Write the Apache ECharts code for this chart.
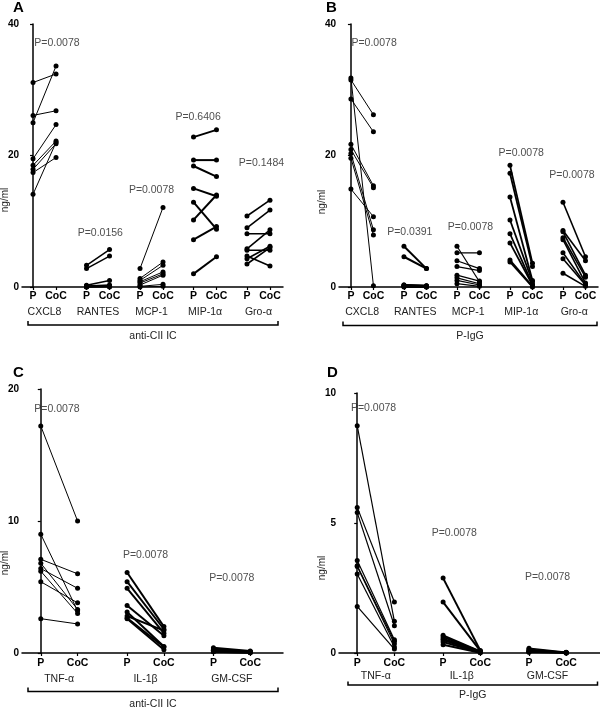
<!DOCTYPE html>
<html><head><meta charset="utf-8">
<script src="https://cdn.jsdelivr.net/npm/echarts@6/dist/echarts.min.js"></script>
<style>html,body{margin:0;padding:0;background:#fff}#c{width:600px;height:708px}</style>
</head><body><div id="c"></div>
<script>
// ---------- DATA ----------
const groupsAB = ['CXCL8', 'RANTES', 'MCP-1', 'MIP-1α', 'Gro-α'];
const groupsCD = ['TNF-α', 'IL-1β', 'GM-CSF'];
const yTicksAB = [0, 20, 40];
const yTicksC = [0, 10, 20];
const yTicksD = [0, 5, 10];

const panelA_P = [
  [31.1, 26.1, 25.0, 19.5, 18.5, 17.9, 17.4, 14.1],
  [3.3, 2.8, 0.25, 0.15, 0.1, 0.05, 0.0, 0.0],
  [2.8, 1.3, 1.0, 0.8, 0.6, 0.3, 0.1, 0.0],
  [22.8, 19.3, 18.4, 15.0, 12.9, 10.2, 7.2, 2.0],
  [10.8, 9.0, 8.1, 5.8, 5.6, 4.7, 4.3, 3.5]
];
const panelA_CoC = [
  [32.4, 26.8, 33.6, 24.7, 22.2, 21.8, 19.7, 22.0],
  [5.7, 4.7, 1.0, 0.3, 0.2, 0.1, 0.1, 0.0],
  [12.1, 3.8, 3.3, 2.3, 2.0, 1.8, 0.4, 0.1],
  [23.9, 19.3, 16.8, 13.8, 8.8, 14.0, 9.2, 4.6],
  [13.2, 11.7, 8.1, 8.7, 5.6, 3.2, 6.2, 6.0]
];
const panelA_pvals = ['P=0.0078', 'P=0.0156', 'P=0.0078', 'P=0.6406', 'P=0.1484'];

const panelB_P = [
  [31.8, 31.5, 28.6, 21.7, 20.9, 20.3, 19.6, 14.9],
  [6.2, 4.6, 0.3, 0.3, 0.2, 0.1, 0.1, 0.0],
  [6.2, 5.2, 4.0, 3.1, 1.8, 1.4, 1.0, 0.5],
  [18.5, 17.3, 13.7, 10.2, 8.1, 6.7, 4.1, 3.8],
  [12.9, 8.6, 8.4, 7.5, 7.2, 5.2, 4.3, 2.1]
];
const panelB_CoC = [
  [0.2, 26.2, 23.6, 15.4, 15.1, 8.7, 7.9, 10.7],
  [2.8, 2.8, 0.2, 0.2, 0.1, 0.1, 0.0, 0.0],
  [0.8, 5.2, 2.8, 2.5, 0.9, 0.5, 0.3, 0.1],
  [3.6, 3.1, 1.0, 0.8, 0.4, 0.3, 0.1, 0.0],
  [4.6, 4.0, 1.8, 1.5, 0.6, 0.4, 0.3, 0.1]
];
const panelB_pvals = ['P=0.0078', 'P=0.0391', 'P=0.0078', 'P=0.0078', 'P=0.0078'];

const panelC_P = [
  [17.2, 9.0, 7.1, 6.8, 6.4, 6.2, 5.4, 2.6],
  [6.1, 5.4, 4.9, 3.6, 3.1, 2.8, 2.65, 2.6],
  [0.4, 0.3, 0.25, 0.2, 0.2, 0.15, 0.1, 0.1]
];
const panelC_CoC = [
  [10.0, 3.2, 6.0, 3.3, 4.9, 3.0, 3.8, 2.2],
  [2.0, 1.8, 1.5, 1.3, 0.5, 1.7, 0.45, 0.25],
  [0.15, 0.1, 0.1, 0.08, 0.05, 0.05, 0.03, 0.02]
];
const panelC_pvals = ['P=0.0078', 'P=0.0078', 'P=0.0078'];

const panelD_P = [
  [8.74, 5.6, 5.4, 3.56, 3.36, 3.33, 3.04, 1.79],
  [2.88, 1.96, 0.68, 0.62, 0.55, 0.5, 0.42, 0.32],
  [0.18, 0.14, 0.1, 0.08, 0.06, 0.05, 0.04, 0.03]
];
const panelD_CoC = [
  [1.22, 1.96, 1.05, 0.51, 0.45, 0.36, 0.23, 0.15],
  [0.1, 0.08, 0.06, 0.05, 0.04, 0.03, 0.02, 0.01],
  [0.03, 0.02, 0.02, 0.01, 0.01, 0.01, 0.0, 0.0]
];
const panelD_pvals = ['P=0.0078', 'P=0.0078', 'P=0.0078'];

// ---------- LAYOUT / STYLE ----------
const FONT = 'Liberation Sans, Arial, sans-serif';
const panels = [
  {letter: 'A', groups: groupsAB, P: panelA_P, C: panelA_CoC, pv: panelA_pvals,
   pvY: [37.1, 8.2, 14.7, 25.8, 18.9], pvDx: [0.54, 0.1, 0, -0.3, 0.13],
   ticks: yTicksAB, grid: {left: 22, top: 24, width: 261, height: 263}, spacing: 2.326, xmin: -0.48, xmax: 10.87,
   widths: [1, 1.5, 1, 2, 1.6], pm: 4, gm: 20, caption: 'anti-CII IC', bracket: [28, 278, 325, 321], capY: 336,
   ngY: 200, letterPos: [13, 0]},
  {letter: 'B', groups: groupsAB, P: panelB_P, C: panelB_CoC, pv: panelB_pvals,
   pvY: [37.1, 8.4, 9.1, 20.3, 17.0], pvDx: [0.53, -0.24, 0.1, 0, -0.1],
   ticks: yTicksAB, grid: {left: 339, top: 24, width: 259, height: 263}, spacing: 2.356, xmin: -0.53, xmax: 10.98,
   widths: [1, 2, 1.2, 1.8, 1.6], pm: 4, gm: 20, caption: 'P-IgG', bracket: [343, 597, 325.5, 321.5], capY: 336,
   ngY: 202, letterPos: [326, 0]},
  {letter: 'C', groups: groupsCD, P: panelC_P, C: panelC_CoC, pv: panelC_pvals,
   pvY: [18.5, 7.4, 5.7], pvDx: [-0.06, 0, 0],
   ticks: yTicksC, grid: {left: 22, top: 389, width: 261, height: 264}, spacing: 2.345, xmin: -0.51, xmax: 6.58,
   widths: [1, 2, 2], pm: 5, gm: 21, caption: 'anti-CII IC', bracket: [28, 278, 691.5, 687.5], capY: 704,
   ngY: 563, letterPos: [13, 365]},
  {letter: 'D', groups: groupsCD, P: panelD_P, C: panelD_CoC, pv: panelD_pvals,
   pvY: [9.4, 4.6, 2.9], pvDx: [-0.06, -0.2, 0],
   ticks: yTicksD, grid: {left: 339, top: 393, width: 262, height: 260}, spacing: 2.31, xmin: -0.49, xmax: 6.53,
   widths: [1.2, 2, 1.6], pm: 5, gm: 18, caption: 'P-IgG', bracket: [348, 597.5, 685, 681.5], capY: 695,
   ngY: 568, letterPos: [327, 365]}
];

const grids = [], xAxes = [], yAxes = [], series = [], graphics = [];
panels.forEach((pn, k) => {
  grids.push(Object.assign({containLabel: false}, pn.grid));
  const pPos = pn.groups.map((g, i) => i * pn.spacing);
  const cPos = pn.groups.map((g, i) => i * pn.spacing + 1);
  const centers = pn.groups.map((g, i) => i * pn.spacing + 0.5);
  const labMap = {};
  pPos.forEach(v => labMap[v.toFixed(4)] = 'P');
  cPos.forEach(v => labMap[v.toFixed(4)] = 'CoC');
  const nameMap = {};
  centers.forEach((v, i) => nameMap[v.toFixed(4)] = pn.groups[i]);
  xAxes.push({
    type: 'value', gridIndex: k, min: pn.xmin, max: pn.xmax, position: 'bottom',
    axisLine: {show: true, onZero: false, lineStyle: {color: '#000', width: 1.5}},
    axisTick: {show: true, customValues: pPos.concat(cPos), length: 3, lineStyle: {color: '#000', width: 1.2}},
    splitLine: {show: false},
    axisLabel: {customValues: pPos.concat(cPos), formatter: v => labMap[v.toFixed(4)] || '',
      color: '#000', fontWeight: 'bold', fontSize: 10.5, fontFamily: FONT, margin: pn.pm}
  });
  xAxes.push({
    type: 'value', gridIndex: k, min: pn.xmin, max: pn.xmax, position: 'bottom',
    axisLine: {show: false}, axisTick: {show: false}, splitLine: {show: false},
    axisLabel: {customValues: centers, formatter: v => nameMap[v.toFixed(4)] || '',
      color: '#222', fontSize: 10.5, fontFamily: FONT, margin: pn.gm}
  });
  const tk = pn.ticks;
  yAxes.push({
    type: 'value', gridIndex: k, min: tk[0], max: tk[tk.length - 1], interval: tk[1] - tk[0],
    axisLine: {show: true, lineStyle: {color: '#000', width: 1.5}},
    axisTick: {show: true, length: 3, lineStyle: {color: '#000', width: 1.2}},
    splitLine: {show: false},
    axisLabel: {color: '#000', fontWeight: 'bold', fontSize: 10, fontFamily: FONT, margin: 3}
  });
  pn.groups.forEach((g, gi) => {
    pn.P[gi].forEach((pv, j) => {
      series.push({
        type: 'line', xAxisIndex: 2 * k, yAxisIndex: k, silent: true, animation: false,
        data: [[pPos[gi], pv], [cPos[gi], pn.C[gi][j]]],
        symbol: 'circle', symbolSize: 5, showSymbol: true,
        lineStyle: {color: '#000', width: pn.widths[gi]}, itemStyle: {color: '#000'}, z: 3
      });
    });
  });
  series.push({
    type: 'scatter', xAxisIndex: 2 * k, yAxisIndex: k, silent: true, animation: false, symbolSize: 0,
    data: centers.map((c, i) => ({value: [c + pn.pvDx[i], pn.pvY[i]], name: pn.pv[i]})),
    label: {show: true, position: 'inside', formatter: p => p.name, color: '#222', fontSize: 10.5, fontFamily: FONT}
  });
  graphics.push({type: 'text', left: pn.letterPos[0], top: pn.letterPos[1],
    style: {text: pn.letter, font: 'bold 15px ' + FONT, fill: '#000'}});
  graphics.push({type: 'text', x: pn.grid.left - 17, y: pn.ngY, rotation: Math.PI / 2,
    style: {text: 'ng/ml', font: '10px ' + FONT, fill: '#222', align: 'center', verticalAlign: 'middle'}});
  const b = pn.bracket;
  graphics.push({type: 'polyline', shape: {points: [[b[0], b[3]], [b[0], b[2]], [b[1], b[2]], [b[1], b[3]]]},
    style: {stroke: '#000', lineWidth: 1.5, fill: null}});
  graphics.push({type: 'text', x: (b[0] + b[1]) / 2, y: pn.capY,
    style: {text: pn.caption, font: '10.5px ' + FONT, fill: '#222', align: 'center', verticalAlign: 'middle'}});
});

const chart = echarts.init(document.getElementById('c'), null, {renderer: 'canvas'});
chart.setOption({
  animation: false, backgroundColor: '#fff',
  grid: grids, xAxis: xAxes, yAxis: yAxes, series: series, graphic: graphics
});
</script></body></html>
